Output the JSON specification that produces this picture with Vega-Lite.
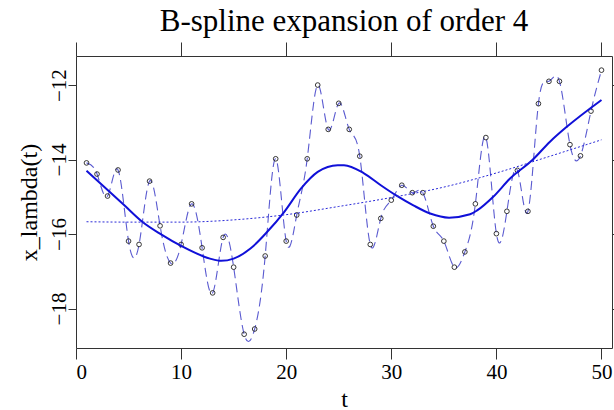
{
  "$schema": "https://vega.github.io/schema/vega-lite/v6.json",
  "autosize": "none",
  "width": 536,
  "height": 292,
  "padding": {"left": 76, "top": 56, "right": 2, "bottom": 62},
  "background": "white",
  "title": {
    "text": "B-spline expansion of order 4",
    "font": "Liberation Serif",
    "fontSize": 31,
    "fontWeight": "normal",
    "color": "black",
    "anchor": "middle",
    "baseline": "bottom",
    "offset": -27
  },
  "config": {
    "view": {"stroke": "#333333", "strokeWidth": 1},
    "axis": {
      "grid": false,
      "domain": false,
      "tickColor": "#333333",
      "labelFont": "Liberation Serif",
      "labelFontSize": 21,
      "labelColor": "black",
      "titleFont": "Liberation Serif",
      "titleFontSize": 24,
      "titleFontWeight": "normal",
      "titleColor": "black"
    }
  },
  "datasets": {
    "obs": [
      {"t": 1, "x": -14.09}, {"t": 2, "x": -14.39}, {"t": 3, "x": -14.98}, {"t": 4, "x": -14.28},
      {"t": 5, "x": -16.19}, {"t": 6, "x": -16.28}, {"t": 7, "x": -14.58}, {"t": 8, "x": -15.78},
      {"t": 9, "x": -16.78}, {"t": 10, "x": -16.28}, {"t": 11, "x": -15.19}, {"t": 12, "x": -16.37},
      {"t": 13, "x": -17.58}, {"t": 14, "x": -16.09}, {"t": 15, "x": -16.89}, {"t": 16, "x": -18.69},
      {"t": 17, "x": -18.55}, {"t": 18, "x": -16.59}, {"t": 19, "x": -13.98}, {"t": 20, "x": -16.19},
      {"t": 21, "x": -15.49}, {"t": 22, "x": -13.98}, {"t": 23, "x": -12.0}, {"t": 24, "x": -13.19},
      {"t": 25, "x": -12.49}, {"t": 26, "x": -13.19}, {"t": 27, "x": -13.91}, {"t": 28, "x": -16.28},
      {"t": 29, "x": -15.58}, {"t": 30, "x": -15.09}, {"t": 31, "x": -14.69}, {"t": 32, "x": -14.89},
      {"t": 33, "x": -14.89}, {"t": 34, "x": -15.79}, {"t": 35, "x": -16.19}, {"t": 36, "x": -16.89},
      {"t": 37, "x": -16.48}, {"t": 38, "x": -15.19}, {"t": 39, "x": -13.41}, {"t": 40, "x": -15.99},
      {"t": 41, "x": -15.39}, {"t": 42, "x": -14.29}, {"t": 43, "x": -15.39}, {"t": 44, "x": -12.5},
      {"t": 45, "x": -11.9}, {"t": 46, "x": -11.9}, {"t": 47, "x": -13.6}, {"t": 48, "x": -13.9},
      {"t": 49, "x": -12.7}, {"t": 50, "x": -11.6}
    ],
    "fit": [
      {"t": 1, "x": -14.3}, {"t": 4.6, "x": -15.23}, {"t": 6.3, "x": -15.67}, {"t": 8.1, "x": -16.01},
      {"t": 10, "x": -16.32}, {"t": 12.75, "x": -16.66}, {"t": 13.8, "x": -16.72}, {"t": 15, "x": -16.66},
      {"t": 16.6, "x": -16.39}, {"t": 18.2, "x": -15.94}, {"t": 19.8, "x": -15.41}, {"t": 21.4, "x": -14.78},
      {"t": 23, "x": -14.33}, {"t": 24.9, "x": -14.15}, {"t": 25.5, "x": -14.15}, {"t": 27.4, "x": -14.37},
      {"t": 29, "x": -14.69}, {"t": 30.5, "x": -14.97}, {"t": 32.1, "x": -15.23}, {"t": 33.7, "x": -15.45},
      {"t": 35.5, "x": -15.56}, {"t": 37.5, "x": -15.47}, {"t": 38.2, "x": -15.36}, {"t": 39.7, "x": -15.0},
      {"t": 41.3, "x": -14.51}, {"t": 43.4, "x": -14.02}, {"t": 45.1, "x": -13.52}, {"t": 46.7, "x": -13.12},
      {"t": 50, "x": -12.4}
    ],
    "trend": [
      {"t": 1, "x": -15.67}, {"t": 5, "x": -15.68}, {"t": 10, "x": -15.68}, {"t": 15, "x": -15.62},
      {"t": 20, "x": -15.48}, {"t": 25, "x": -15.26}, {"t": 30, "x": -15.02}, {"t": 35, "x": -14.74},
      {"t": 40, "x": -14.36}, {"t": 45, "x": -13.92}, {"t": 50, "x": -13.47}
    ]
  },
  "resolve": {"axis": {"x": "independent", "y": "independent"}},
  "layer": [
    {
      "data": {"name": "obs"},
      "mark": {"type": "line", "interpolate": "natural", "color": "#5a5ad0", "strokeWidth": 1.1, "strokeDash": [9, 5]},
      "encoding": {
        "x": {"field": "t", "type": "quantitative", "scale": {"domain": [0, 51], "nice": false, "zero": false},
              "axis": {"orient": "bottom", "values": [0, 10, 20, 30, 40, 50], "tickSize": 11, "title": "t", "labelPadding": 2, "titlePadding": 5}},
        "y": {"field": "x", "type": "quantitative", "scale": {"domain": [-19.06, -11.22], "nice": false, "zero": false},
              "axis": {"orient": "left", "values": [-18, -16, -14, -12], "tickSize": 8, "labelAngle": -90, "labelAlign": "center", "labelBaseline": "alphabetic", "labelPadding": 3, "title": "x_lambda(t)", "titlePadding": 7}}
      }
    },
    {
      "data": {"name": "obs"},
      "mark": {"type": "point", "shape": "circle", "filled": false, "stroke": "#222222", "strokeWidth": 0.9, "size": 22, "opacity": 1},
      "encoding": {
        "x": {"field": "t", "type": "quantitative", "axis": null},
        "y": {"field": "x", "type": "quantitative", "axis": null}
      }
    },
    {
      "data": {"name": "fit"},
      "mark": {"type": "line", "interpolate": "monotone", "color": "#1010d8", "strokeWidth": 2},
      "encoding": {
        "x": {"field": "t", "type": "quantitative", "axis": null},
        "y": {"field": "x", "type": "quantitative", "axis": null}
      }
    },
    {
      "data": {"name": "trend"},
      "mark": {"type": "line", "interpolate": "monotone", "color": "#2a2ad8", "strokeWidth": 1, "strokeDash": [2, 2]},
      "encoding": {
        "x": {"field": "t", "type": "quantitative",
              "axis": {"orient": "top", "values": [0, 10, 20, 30, 40, 50], "tickSize": 14, "labels": false, "title": null}},
        "y": {"field": "x", "type": "quantitative",
              "axis": {"orient": "right", "values": [-18, -16, -14, -12], "tickSize": 8, "labels": false, "title": null}}
      }
    }
  ]
}
